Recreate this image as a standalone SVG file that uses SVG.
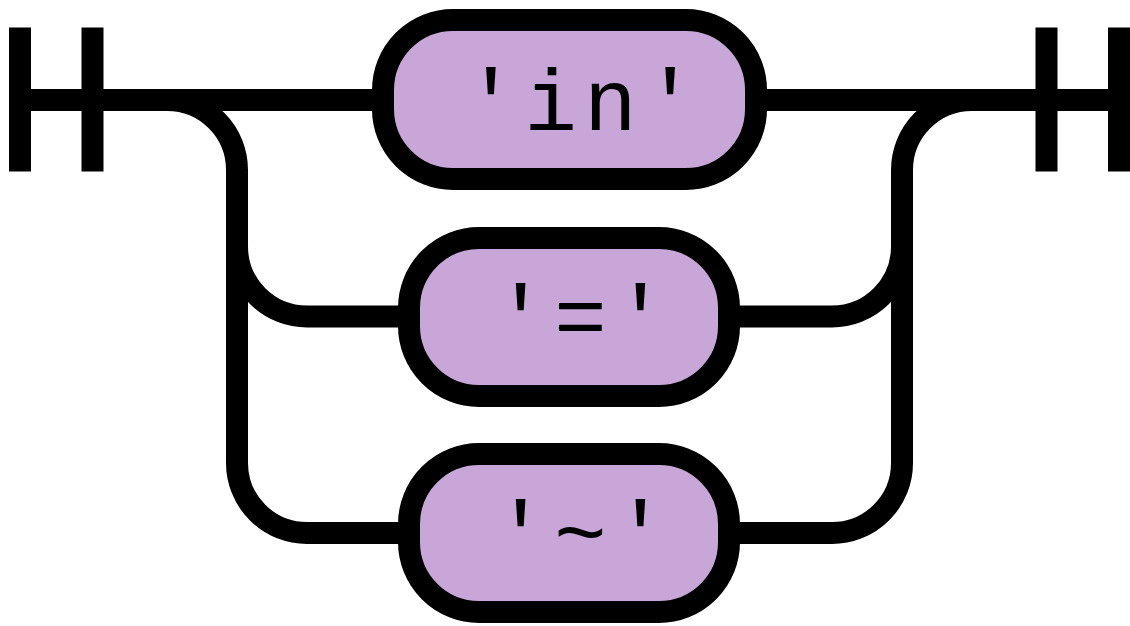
<svg xmlns="http://www.w3.org/2000/svg" width="1130" height="626" viewBox="0 0 1130 626">
<style>
.line{fill:none;stroke:#000;stroke-width:22;}
.node rect{fill:#c8a6d8;stroke:#000;stroke-width:22;}
.node text{font-family:"Liberation Mono","DejaVu Sans Mono",monospace;font-size:88px;letter-spacing:7px;fill:#000;text-anchor:middle;}
</style>
<rect width="1130" height="626" fill="#fff"/>
<g id="connectors" class="line">
<path d="M20 27.5V171.5M92.5 27.5V171.5"/>
<path d="M9 100H383"/>
<path d="M756 100H1130"/>
<path d="M167 100A70 70 0 0 1 237 170V463A70 70 0 0 0 307 533H409"/>
<path d="M237 246.5A70 70 0 0 0 307 316.5H409"/>
<path d="M729 316.5H832A70 70 0 0 0 902 246.5"/>
<path d="M729 533H832A70 70 0 0 0 902 463V170A70 70 0 0 1 972 100"/>
<path d="M1046.5 27.5V171.5M1119 27.5V171.5"/>
</g>
<g id="node-in" class="node">
<rect x="383" y="20" width="373" height="159" rx="70" ry="70"/>
<text x="584" y="130">'in'</text>
</g>
<g id="node-eq" class="node">
<rect x="409" y="238" width="320" height="158" rx="70" ry="70"/>
<text x="584" y="346">'='</text>
</g>
<g id="node-tilde" class="node">
<rect x="409" y="454" width="320" height="158" rx="70" ry="70"/>
<text x="584" y="562">'~'</text>
</g>
</svg>
